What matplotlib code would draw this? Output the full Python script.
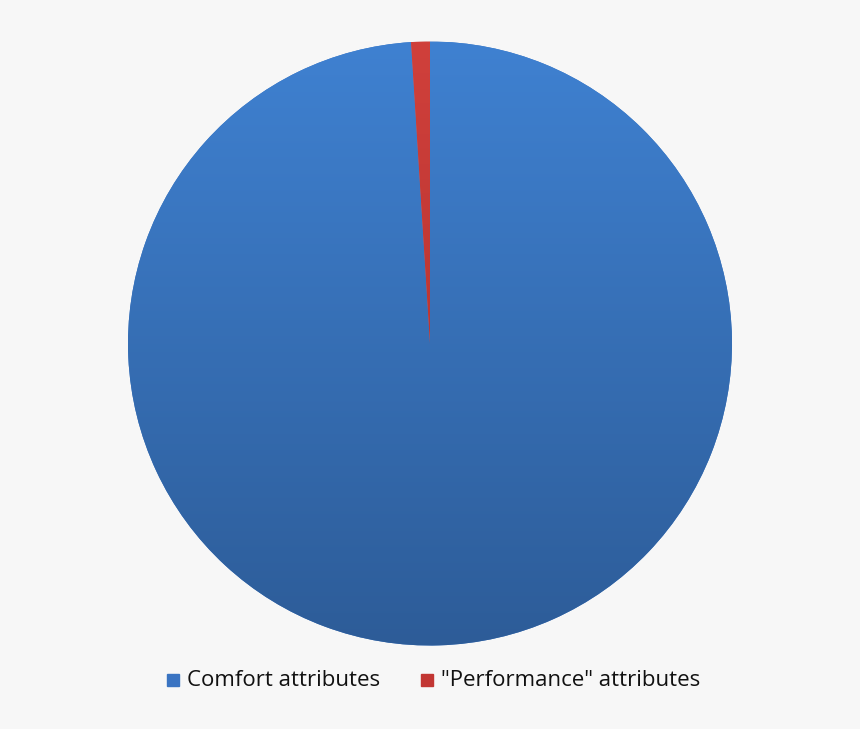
import numpy as np
import matplotlib.pyplot as plt
from matplotlib.colors import LinearSegmentedColormap
from matplotlib.patches import Rectangle

labels = ['Comfort attributes', '"Performance" attributes']
values = [99, 1]
colors = ['#3a75c4', '#c83b37']

fig = plt.figure(figsize=(8.6, 7.29), dpi=100, facecolor='#f7f7f7')
ax = fig.add_axes([0, 0, 1, 1])
ax.set_facecolor('#f7f7f7')

cx, cy, r = 430, 729 - 343.5, 302
wedges, _ = ax.pie(values, colors=colors, startangle=90, counterclock=False,
                   center=(cx, cy), radius=r, frame=True,
                   wedgeprops=dict(linewidth=0))
ax.set_xlim(0, 860)
ax.set_ylim(0, 729)
ax.set_aspect('equal')
ax.axis('off')

# vertical gradient on each slice
grads = [['#3f81d1', '#2d5c98'], ['#d0403b', '#a82c2a']]
for w, g in zip(wedges, grads):
    cmap = LinearSegmentedColormap.from_list('g', g)
    grad = np.linspace(0, 1, 256).reshape(-1, 1)
    im = ax.imshow(grad, cmap=cmap, aspect='auto',
                   extent=(cx - r, cx + r, cy - r, cy + r), origin='upper',
                   zorder=w.get_zorder() + 0.1)
    im.set_clip_path(w)

# legend
ly = 729 - 680
ax.add_patch(Rectangle((167, ly - 6), 12, 12, color='#3a74c2', zorder=5))
ax.text(187, ly, labels[0], fontsize=16, family='Open Sans', va='center', color='#111111')
ax.add_patch(Rectangle((421, ly - 6), 12, 12, color='#c23633', zorder=5))
ax.text(441, ly, labels[1], fontsize=16, family='Open Sans', va='center', color='#111111')

fig.savefig('out.png', dpi=100, facecolor=fig.get_facecolor())
